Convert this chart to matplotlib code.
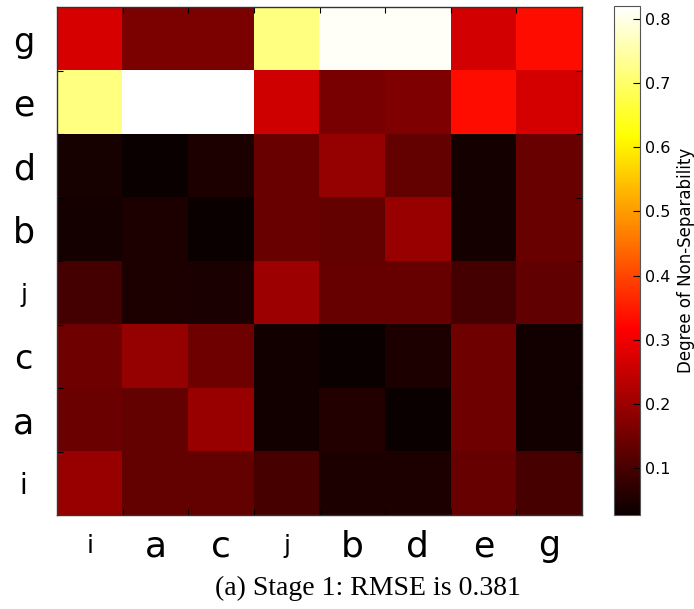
import numpy as np
import matplotlib
matplotlib.use("Agg")
import matplotlib.pyplot as plt

# Row labels (top to bottom) and column labels (left to right)
row_labels = ["g", "e", "d", "b", "j", "c", "a", "i"]
col_labels = ["i", "a", "c", "j", "b", "d", "e", "g"]

# Font sizes of individual tick labels (as they appear in the reference)
row_label_sizes = [24, 25, 25, 25, 18, 24, 25, 20]
col_label_sizes = [18, 26, 26, 18, 26, 26, 25, 25]

# Degree of non-separability per cell (rows as listed above)
row_g = [0.270, 0.161, 0.161, 0.720, 0.812, 0.812, 0.263, 0.331]
row_e = [0.720, 0.820, 0.820, 0.260, 0.160, 0.166, 0.331, 0.266]
row_d = [0.045, 0.028, 0.050, 0.140, 0.192, 0.135, 0.040, 0.140]
row_b = [0.040, 0.050, 0.027, 0.140, 0.133, 0.197, 0.040, 0.140]
row_j = [0.097, 0.050, 0.048, 0.202, 0.138, 0.138, 0.097, 0.130]
row_c = [0.147, 0.192, 0.147, 0.038, 0.028, 0.050, 0.147, 0.038]
row_a = [0.143, 0.135, 0.195, 0.038, 0.055, 0.028, 0.147, 0.038]
row_i = [0.195, 0.135, 0.135, 0.099, 0.050, 0.050, 0.138, 0.099]

caption = "(a) Stage 1: RMSE is 0.381"
cbar_label = "Degree of Non-Separability"
cbar_ticks = [0.1, 0.2, 0.3, 0.4, 0.5, 0.6, 0.7, 0.8]

data = np.array([row_g, row_e, row_d, row_b, row_j, row_c, row_a, row_i])

W, H = 694, 609
fig = plt.figure(figsize=(W / 100, H / 100), dpi=100)

def px_axes(left, top, right, bottom):
    return fig.add_axes([left / W, 1 - bottom / H, (right - left) / W, (bottom - top) / H])

ax = px_axes(57, 7, 582, 515)
im = ax.imshow(data, cmap="hot", aspect="auto", interpolation="nearest")

n = len(col_labels)
# boundary ticks (inward, no labels)
ax.set_xticks(np.arange(0.5, n - 0.5, 1.0))
ax.set_yticks(np.arange(0.5, len(row_labels) - 0.5, 1.0))
ax.set_xticklabels([])
ax.set_yticklabels([])
ax.tick_params(which="major", direction="in", length=4, width=0.8, color="black",
               top=True, right=True)
# labels at cell centres
ax.set_xticks(np.arange(n), minor=True)
ax.set_yticks(np.arange(len(row_labels)), minor=True)
ax.set_xticklabels(col_labels, minor=True)
ax.set_yticklabels(row_labels, minor=True)
ax.tick_params(which="minor", length=0, pad=0)

for lab, fs in zip(ax.get_xticklabels(minor=True), col_label_sizes):
    lab.set_fontsize(fs)
for lab, fs in zip(ax.get_yticklabels(minor=True), row_label_sizes):
    lab.set_fontsize(fs)
ax.tick_params(axis="x", which="minor", pad=22.5)
ax.tick_params(axis="y", which="minor", pad=24)
for lab in ax.get_xticklabels(minor=True):
    lab.set_verticalalignment("center")
for lab in ax.get_yticklabels(minor=True):
    lab.set_horizontalalignment("center")

for sp in ax.spines.values():
    sp.set_color("#333333")
    sp.set_linewidth(1.0)

cax = px_axes(614, 6, 640, 515)
cb = fig.colorbar(im, cax=cax, ticks=cbar_ticks)
cb.ax.tick_params(labelsize=11.5, direction="in", length=5, width=0.8)
cb.set_label(cbar_label, fontsize=12, labelpad=5)
cb.outline.set_edgecolor("#555555")

fig.text(368 / W, 1 - 588 / H, caption, ha="center", va="center",
         fontsize=20, family="Liberation Serif")

fig.savefig("out.png", dpi=100)
